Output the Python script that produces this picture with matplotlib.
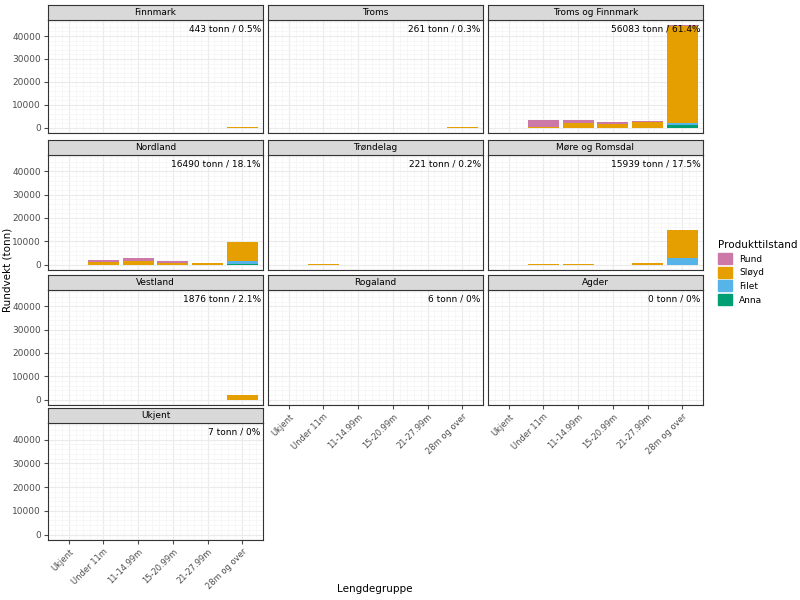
import matplotlib.pyplot as plt
from matplotlib.patches import Patch

groups = ["Ukjent", "Under 11m", "11-14.99m", "15-20.99m", "21-27.99m", "28m og over"]
regions = ["Finnmark", "Troms", "Troms og Finnmark", "Nordland", "Trøndelag",
           "Møre og Romsdal", "Vestland", "Rogaland", "Agder", "Ukjent"]
labels = ["443 tonn / 0.5%", "261 tonn / 0.3%", "56083 tonn / 61.4%", "16490 tonn / 18.1%",
          "221 tonn / 0.2%", "15939 tonn / 17.5%", "1876 tonn / 2.1%", "6 tonn / 0%",
          "0 tonn / 0%", "7 tonn / 0%"]

# values per region, per length group (tonn)
anna = {"Troms og Finnmark": [0, 0, 0, 0, 0, 1200], "Nordland": [0, 0, 0, 0, 0, 100]}
filet = {"Troms og Finnmark": [0, 0, 0, 0, 0, 1000], "Nordland": [0, 0, 0, 0, 0, 1500],
         "Møre og Romsdal": [0, 0, 0, 0, 0, 2800]}
sloyd = {"Finnmark": [0, 0, 0, 0, 0, 443], "Troms": [0, 0, 0, 0, 0, 261],
         "Troms og Finnmark": [0, 500, 2000, 1800, 2600, 42000],
         "Nordland": [0, 1000, 1400, 900, 900, 8200], "Trøndelag": [0, 221, 0, 0, 0, 0],
         "Møre og Romsdal": [0, 300, 300, 0, 800, 12000], "Vestland": [0, 0, 0, 0, 0, 1876],
         "Rogaland": [0, 0, 0, 0, 0, 6], "Ukjent": [0, 0, 0, 0, 0, 7]}
rund = {"Troms og Finnmark": [0, 2800, 1200, 700, 300, 500],
        "Nordland": [0, 1200, 1300, 600, 0, 0]}

series = [("Anna", anna, "#009E73"), ("Filet", filet, "#56B4E9"),
          ("Sløyd", sloyd, "#E69F00"), ("Rund", rund, "#CC79A7")]

W, H = 800, 600
fig = plt.figure(figsize=(8, 6), dpi=100)
cols = [(48, 263), (268, 483), (488, 703)]
rows = [(5, 20, 133), (140, 155, 270), (275, 290, 405), (408, 423, 540)]

for i, reg in enumerate(regions):
    r, c = divmod(i, 3)
    x0, x1 = cols[c]
    st, pt, pb = rows[r]
    ax = fig.add_axes([x0 / W, 1 - pb / H, (x1 - x0) / W, (pb - pt) / H])
    sax = fig.add_axes([x0 / W, 1 - pt / H, (x1 - x0) / W, (pt - st) / H])
    sax.set_facecolor("#D9D9D9")
    sax.set_xticks([]); sax.set_yticks([])
    sax.text(0.5, 0.5, reg, ha="center", va="center", fontsize=6.5, transform=sax.transAxes)
    for s in sax.spines.values():
        s.set_color("#333333")
    bottom = [0] * 6
    for name, d, col in series:
        vals = d.get(reg, [0] * 6)
        ax.bar(range(6), vals, bottom=bottom, color=col, width=0.9)
        bottom = [b + v for b, v in zip(bottom, vals)]
    ax.set_xlim(-0.6, 5.6)
    ax.set_ylim(-2300, 47000)
    ax.set_yticks([0, 10000, 20000, 30000, 40000])
    ax.set_xticks(range(6))
    ax.grid(True, color="#EBEBEB", lw=0.8)
    ax.set_axisbelow(True)
    ax.minorticks_on()
    ax.grid(True, which="minor", color="#F4F4F4", lw=0.5)
    ax.tick_params(which="minor", length=0)
    ax.tick_params(labelsize=6.5, length=3, pad=2, colors="#4D4D4D")
    ax.text(0.99, 0.96, labels[i], transform=ax.transAxes, ha="right", va="top", fontsize=6.5)
    for s in ax.spines.values():
        s.set_color("#333333")
    if c != 0:
        ax.set_yticklabels([])
        ax.tick_params(axis="y", length=0)
    if i >= 7:
        ax.set_xticklabels(groups, rotation=45, ha="right", fontsize=6, rotation_mode="anchor")
    else:
        ax.set_xticklabels([])
        ax.tick_params(axis="x", length=0)

fig.text(8 / W, 1 - 270 / H, "Rundvekt (tonn)", rotation=90, va="center", ha="center", fontsize=7.5)
fig.text(375 / W, 1 - 589 / H, "Lengdegruppe", ha="center", va="center", fontsize=7.5)
handles = [Patch(color=col, label=name) for name, d, col in series[::-1]]
fig.legend(handles=handles, title="Produkttilstand", loc="upper left",
           bbox_to_anchor=(712 / W, 1 - 234 / H), frameon=False, fontsize=6.5,
           title_fontsize=7.5, handlelength=1.5, handleheight=1.5, alignment="left",
           labelspacing=0.3, borderpad=0.2)
fig.savefig("out.png")
